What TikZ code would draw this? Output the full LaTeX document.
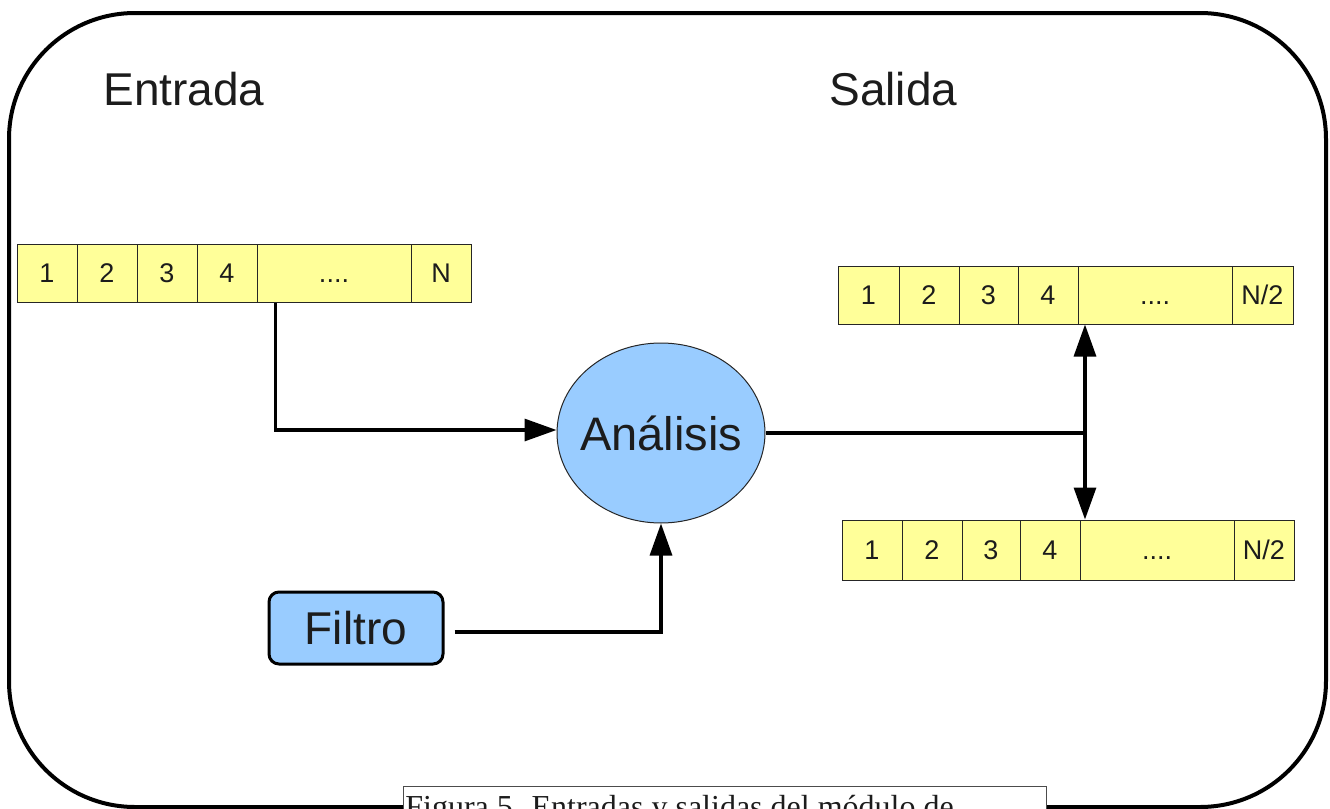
\documentclass[tikz,border=0pt]{standalone}
\usepackage{fontspec}
\setmainfont{Liberation Sans}
\newfontfamily\capfont{Liberation Serif}
\usetikzlibrary{arrows.meta,shapes.geometric}
\definecolor{cellyellow}{HTML}{FFFF99}
\definecolor{procblue}{HTML}{99CCFF}
\definecolor{ink}{HTML}{1C1C1C}
\newcommand{\moredots}{....}
\newcommand{\halfN}{N/2}
\begin{document}
\begin{tikzpicture}[x=0.5pt,y=-0.5pt,
  cell/.style={draw=black!85, line width=0.5pt, fill=cellyellow, inner sep=0pt,
    minimum height=29pt, text height=9.7pt, text depth=0pt, text=ink,
    font=\fontsize{13.5}{16}\selectfont},
  title/.style={anchor=base west, inner sep=0pt, text=ink, font=\fontsize{23}{27}\selectfont},
  proc/.style={ellipse, draw=black!85, line width=0.5pt, fill=procblue, inner sep=0pt,
    minimum width=104pt, minimum height=90pt, text=ink, font=\fontsize{23.5}{28}\selectfont},
  filterbox/.style={draw=black, line width=1.5pt, fill=procblue, rounded corners=5pt,
    minimum width=87pt, minimum height=36pt, inner sep=0pt, text=ink, font=\fontsize{23}{27}\selectfont},
  link/.style={line width=1.6pt, draw=black},
  tip/.style={-{Triangle[length=16pt,width=11pt]}},
  bothtips/.style={{Triangle[length=16pt,width=11pt]}-{Triangle[length=16pt,width=11pt]}}]
\useasboundingbox (0,0) rectangle (1330,809);
\clip (0,0) rectangle (1330,809);

% frame
\draw[line width=2pt, rounded corners=63pt] (9,13) rectangle (1326,807);

% headings
\node[title] (entrada) at (103,105) {Entrada};
\node[title] (salida) at (829,105) {Salida};

% input buffer
\foreach \c/\w/\t [count=\i] in {47/30/1, 107/30/2, 167/30/3, 227/30/4, 334/77/\moredots, 441/30/N}
  \node[cell, minimum width=\w pt] (in\i) at (\c,273) {\t};

% upper output buffer
\foreach \c/\w/\t [count=\i] in {868.5/30.5/1, 929/30/2, 988.5/29.5/3, 1048/30/4, 1155/77/\moredots, 1262.5/30.5/\halfN}
  \node[cell, minimum width=\w pt] (ua\i) at (\c,295) {\t};

% lower output buffer
\foreach \c/\w/\t [count=\i] in {872/30/1, 932/30/2, 991/29/3, 1050/30/4, 1157/77/\moredots, 1264/30/\halfN}
  \node[cell, minimum width=\w pt, minimum height=30pt] (ub\i) at (\c,550) {\t};

% processing blocks
\node[proc] (ana) at (661,433) {\makebox[0pt]{Análisis}};
\node[filterbox] (filtro) at (356,628) {Filtro};

% connectors
\draw[link, tip] ([xshift=9.5pt]in5.south west) |- ([yshift=1.5pt]ana.west);
\draw[link, tip] ([xshift=5pt,yshift=-2pt]filtro.east) -| (ana.south);
\coordinate (split) at (1085,433);
\draw[link] (ana.east) -- (split);
\draw[link, bothtips] (split |- ua5.south) -- (split |- ub5.north);

% caption
\node[draw=black!70, line width=0.5pt, fill=white, anchor=north west, inner sep=0pt,
  minimum width=321.5pt, minimum height=30pt] (capbox) at (403,786) {};
\node[anchor=base west, inner sep=0pt, text=ink, font=\capfont\fontsize{16}{19}\selectfont]
  (captext) at (405,817) {Figura 5. Entradas y salidas del módulo de};
\end{tikzpicture}
\end{document}
